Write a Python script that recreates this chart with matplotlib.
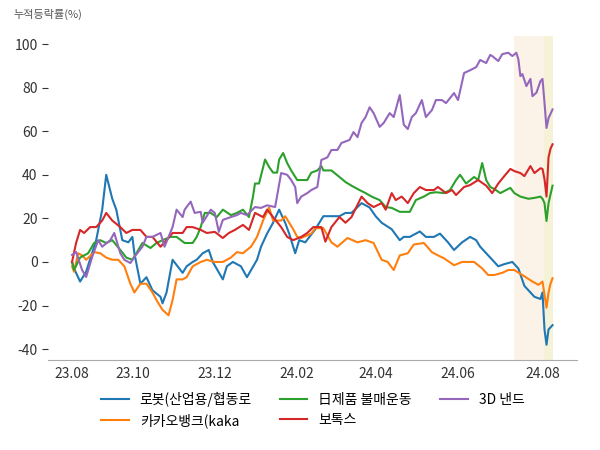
import matplotlib.pyplot as plt
import numpy as np

plt.rcParams['font.family'] = ['Noto Sans CJK KR', 'DejaVu Sans']
plt.rcParams['axes.unicode_minus'] = False

# trading-day index -> cumulative change (%)
robot_days = [0, 1, 4, 7, 12, 15, 17, 20, 22, 25, 28, 30, 31, 34, 37, 40, 44, 45, 47, 49,
              50, 55, 57, 60, 62, 65, 68, 70, 75, 77, 80, 84, 87, 92, 94, 97, 100, 103, 106, 108,
              111, 113, 116, 121, 125, 128, 133, 136, 139, 144, 148, 151, 154, 159, 163, 165, 168, 173, 176, 180,
              183, 187, 190, 194, 198, 201, 203, 206, 208, 212, 215, 219, 222, 225, 228, 230, 233, 234, 235, 236,
              237, 238, 239]
robot = [0, -3, -9, -4.5, 10, 24, 40, 29, 24, 10, 9, 11.5, 4, -10, -7, -13, -16, -19, -14, -4,
         1, -5, -2, 0, 1, 4, 5.5, 0, -8, -2, 0, -2, -7, 1, 7, 13, 18, 24, 18, 13,
         4, 10, 9, 15, 21, 21, 21, 22.5, 22.5, 27, 25, 21, 18, 15, 10, 11.5, 11.5, 14, 11.5, 11.5,
         13, 9, 5.5, 9, 11.5, 10, 7, 4, 2, -2, -1, 0, -3, -11, -14, -16, -17, -14, -31, -38,
         -31, -30, -29]

kakao_days = [0, 1, 3, 5, 7, 11, 14, 17, 20, 23, 26, 29, 31, 34, 37, 40, 42, 45, 48, 50,
              52, 55, 57, 60, 64, 67, 71, 75, 79, 82, 85, 89, 92, 95, 98, 100, 104, 106, 110, 112,
              114, 119, 121, 125, 129, 132, 137, 142, 146, 150, 154, 157, 160, 163, 167, 170, 175, 179, 182, 185,
              190, 194, 197, 200, 204, 207, 210, 214, 217, 220, 224, 229, 232, 234, 235, 236, 237, 238, 239]
kakao = [-2, -4.5, 4, 3, 1, 4.5, 4, 2, 1, 1, -2, -10, -14, -10, -10, -14, -17.5, -22, -24.5, -17.5,
         -8, -8, -7, -2, 0, 1, 0, 0, 2, 4.5, 4, 7, 11.5, 19, 25, 19, 19, 21, 15, 11.5,
         11, 13, 15.5, 15.5, 9, 7, 11, 9, 10, 8.7, 1, 0, -3.7, 3, 4, 8, 8.7, 4.5, 3, 1.7,
         -1.5, 0, 0, 0, -3, -6, -6, -5, -3.7, -3.7, -6, -9, -10.5, -9, -15, -21, -14, -10, -7.5]

boycott_days = [0, 1, 4, 8, 11, 14, 17, 20, 24, 27, 30, 32, 35, 39, 42, 45, 49, 52, 56, 60,
                62, 64, 66, 69, 72, 75, 79, 82, 85, 88, 90, 91, 93, 96, 98, 100, 102, 103, 105, 107,
                109, 112, 114, 117, 119, 122, 124, 125, 129, 133, 136, 139, 143, 146, 149, 153, 156, 159, 163, 166,
                168, 171, 175, 178, 181, 185, 188, 191, 193, 196, 200, 202, 204, 206, 208, 210, 213, 218, 220, 223,
                227, 230, 233, 234, 235, 236, 237, 238, 239]
boycott = [0, -3.7, 2, 4, 8.7, 10, 8.7, 10, 5.5, 2, 1, 4, 8.7, 6.4, 8.7, 10, 11.5, 11.5, 8.7, 8.7,
           11.5, 16, 22.5, 22.5, 20.6, 24, 21.5, 22.5, 24, 20.6, 30, 36, 36, 47, 43.6, 41, 41, 47, 50, 45.4,
           42, 37.6, 37.6, 37.6, 41, 42, 44, 42, 42, 39, 36.7, 35, 33, 31.6, 30, 28.4, 25.2, 24.8, 23, 23,
           23, 28.4, 30, 31.6, 32, 31.6, 33, 37.6, 40, 36, 39, 37.6, 45.4, 37.6, 34.4, 33.5, 31.6, 34, 31.6, 30,
           29, 29.4, 30, 29, 27, 18.8, 27, 31, 35]

botox_days = [0, 2, 4, 6, 9, 12, 15, 17, 20, 24, 27, 30, 34, 37, 40, 44, 47, 50, 55, 57,
              60, 64, 67, 71, 75, 78, 81, 85, 88, 91, 95, 97, 100, 104, 107, 110, 114, 117, 120, 124,
              126, 129, 133, 136, 139, 144, 147, 150, 154, 156, 159, 161, 164, 167, 170, 173, 176, 180, 182, 186,
              189, 191, 195, 198, 202, 206, 209, 212, 215, 218, 220, 223, 225, 228, 230, 233, 234, 235, 236, 237,
              238, 239]
botox = [0, 8.7, 14.7, 13.3, 16, 16, 19, 22.5, 19, 16, 13.3, 14.7, 14.7, 11.5, 11.5, 7, 10, 13.3, 13.3, 16,
         16, 14.7, 13.3, 13.8, 11, 13.3, 14.7, 17, 14.7, 22.5, 20.6, 24, 20.6, 16, 11.5, 10, 11.5, 13.3, 16, 16,
         9.3, 16, 20.6, 18, 20.6, 30, 27, 25.2, 27, 24, 31.6, 28.4, 30, 27, 31.6, 34.4, 33, 33, 34.4, 31.6,
         33, 30.7, 34.4, 35.3, 37.6, 35, 31.6, 36, 39.4, 42.7, 41.7, 40.8, 39.4, 44, 40.8, 43, 42.7, 38, 30, 48,
         52, 54]

nand_days = [0, 2, 5, 7, 10, 13, 15, 19, 21, 24, 26, 29, 31, 35, 37, 40, 44, 46, 50, 52,
             55, 56, 59, 61, 64, 65, 69, 71, 73, 75, 79, 82, 84, 87, 91, 94, 97, 101, 104, 107,
             109, 111, 112, 114, 117, 119, 122, 124, 127, 129, 132, 134, 138, 140, 142, 144, 146, 148, 150, 153,
             155, 158, 160, 163, 165, 167, 169, 171, 174, 176, 179, 181, 184, 186, 190, 192, 195, 198, 201, 203,
             206, 208, 209, 212, 214, 217, 219, 221, 222, 223, 224, 226, 228, 229, 231, 233, 234, 235, 236, 237,
             238, 239]
nand = [3.2, 4.6, -3.7, -6.9, 2.3, 10, 7, 10, 13.3, 4, 1, -0.5, 2.3, 7, 11.5, 11.5, 13.3, 7, 16, 24,
        20.6, 24, 27.7, 22.5, 23, 18, 24, 22.5, 13.8, 19.3, 20.6, 21.5, 22.5, 21.5, 25.2, 24.8, 26, 25.2, 40.8, 40,
        37.6, 34.4, 27, 30, 31.6, 33, 34.4, 46.8, 48, 51.4, 51.4, 54.6, 56, 59.6, 57.3, 63.8, 66.5, 71, 68.3, 62,
        63.8, 68.3, 66.5, 76.6, 63, 61, 66.5, 68.3, 74.3, 66.5, 69.7, 74.3, 74.3, 72.9, 77.5, 74.3, 86.7, 88, 89.4, 92.7,
        91.3, 95, 94.5, 92.2, 95.4, 96, 94.5, 96, 93, 85.3, 86.2, 80.7, 84, 76.1, 77.7, 83, 84, 73, 61.5, 66,
        68, 70]

names = ['로봇(산업용/협동로', '카카오뱅크(kaka', '日제품 불매운동', '보톡스', '3D 낸드']
tick_days = [0, 30, 71, 112, 151, 192, 234]
tick_labels = ['23.08', '23.10', '23.12', '24.02', '24.04', '24.06', '24.08']
span1 = (219.75, 234.75)
span2 = (234.75, 239.3)

fig, ax = plt.subplots(figsize=(6, 4.5), dpi=100)
fig.subplots_adjust(left=0.08, right=0.962, bottom=0.2, top=0.92)

ax.axvspan(*span1, color='#fbf2e8', zorder=0, lw=0)
ax.axvspan(*span2, color='#f5f2d8', zorder=0, lw=0)

series = [(robot_days, robot), (kakao_days, kakao), (boycott_days, boycott),
          (botox_days, botox), (nand_days, nand)]
for (d, v), name in zip(series, names):
    ax.plot(d, v, lw=1.5, label=name)

ax.set_ylim(-45, 103.7)
ax.set_xticks(tick_days)
ax.set_xticklabels(tick_labels)
ax.set_yticks([-40, -20, 0, 20, 40, 60, 80, 100])
ax.tick_params(axis='x', length=0, pad=5, labelsize=10, colors='#333333')
ax.tick_params(axis='y', length=4, labelsize=10, colors='#333333')
for s in ['left', 'top', 'right']:
    ax.spines[s].set_visible(False)
ax.spines['bottom'].set_color('#aaaaaa')

ax.text(-0.066, 1.068, '누적등락률(%)', transform=ax.transAxes, fontsize=8,
        color='#555555', ha='left', va='center')

ax.legend(loc='upper center', bbox_to_anchor=(0.5, -0.06), ncol=3, frameon=False,
          fontsize=10, labelspacing=0.45)

plt.savefig('out.png')
